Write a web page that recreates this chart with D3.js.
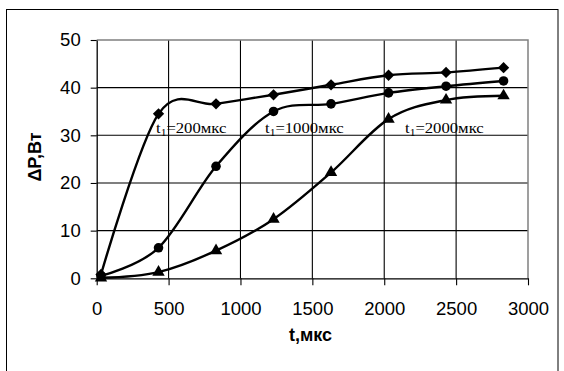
<!DOCTYPE html>
<html>
<head>
<meta charset="utf-8">
<script src="https://cdn.jsdelivr.net/npm/d3@7"></script>
<style>
  html, body { margin: 0; padding: 0; background: #fff; }
  svg { display: block; }
</style>
</head>
<body>
<svg id="chart" width="564" height="371"></svg>
<script>
// Time points, µs
const times = [30, 430, 830, 1230, 1630, 2030, 2430, 2830];
// ΔP, W for each pulse duration t1
const p200  = [0.8, 34.5, 36.6, 38.5, 40.6, 42.6, 43.2, 44.2];
const p1000 = [0.5, 6.4, 23.5, 35.0, 36.6, 38.9, 40.3, 41.4];
const p2000 = [0.1, 1.3, 5.8, 12.4, 22.2, 33.4, 37.4, 38.3];

const xTicks = [0, 500, 1000, 1500, 2000, 2500, 3000];
const yTicks = [0, 10, 20, 30, 40, 50];

const seriesLabels = ["200мкс", "1000мкс", "2000мкс"];
const seriesMarkers = ["diamond", "circle", "triangle"];

const svg = d3.select("#chart");

// outer chart frame
svg.append("rect")
  .attr("x", 6.5).attr("y", 9.5)
  .attr("width", 551.5).attr("height", 400)
  .attr("fill", "#fff").attr("stroke", "#000").attr("stroke-width", 1);

const x = d3.scaleLinear().domain([0, 3000]).range([96.7, 528]);
const y = d3.scaleLinear().domain([0, 50]).range([278.3, 40]);

// gridlines
const grid = svg.append("g");
grid.selectAll("line.h").data(yTicks.slice(1, -1)).join("line")
  .attr("x1", x(0)).attr("x2", x(3000))
  .attr("y1", d => y(d)).attr("y2", d => y(d))
  .attr("stroke", "#000").attr("stroke-width", 1.1);
grid.selectAll("line.v").data(xTicks.slice(1, -1)).join("line")
  .attr("x1", d => x(d)).attr("x2", d => x(d))
  .attr("y1", y(0)).attr("y2", y(50))
  .attr("stroke", "#000").attr("stroke-width", 1.1);

// plot-area border (top and right)
svg.append("path")
  .attr("d", `M${x(0)},${y(50)}H${x(3000)}V${y(0)}`)
  .attr("fill", "none").attr("stroke", "#808080").attr("stroke-width", 1.5);

const tickFont = "'Liberation Sans', Arial, sans-serif";
const fmt = d3.format("d");

const xAxis = svg.append("g")
  .attr("transform", `translate(0,${y(0)})`)
  .call(d3.axisBottom(x).tickValues(xTicks).tickFormat(fmt).tickSize(7).tickPadding(17).tickSizeOuter(0));
const yAxis = svg.append("g")
  .attr("transform", `translate(${x(0)},0)`)
  .call(d3.axisLeft(y).tickValues(yTicks).tickFormat(fmt).tickSize(6).tickPadding(10).tickSizeOuter(0));

[xAxis, yAxis].forEach(g => {
  g.select(".domain").attr("stroke", "#000").attr("stroke-width", 1.3);
  g.selectAll(".tick line").attr("stroke", "#000").attr("stroke-width", 1.1);
  g.selectAll(".tick text")
    .attr("fill", "#000")
    .style("font-family", tickFont)
    .style("font-size", "18.5px");
});

// axis titles
svg.append("text")
  .attr("x", 310.5).attr("y", 341)
  .attr("text-anchor", "middle")
  .style("font-family", tickFont).style("font-size", "18px").style("font-weight", "bold")
  .text("t,мкс");
svg.append("text")
  .attr("transform", "translate(41,157) rotate(-90)")
  .attr("text-anchor", "middle")
  .style("font-family", tickFont).style("font-size", "18px").style("font-weight", "bold")
  .text("ΔP,Вт");

// curves
const line = d3.line()
  .x((d, i) => x(times[i]))
  .y(d => y(d))
  .curve(d3.curveCardinal.tension(0));

const allSeries = [p200, p1000, p2000];
const markerPath = {
  diamond: d3.symbol().type(d3.symbolSquare).size(64)(),
  circle: d3.symbol().type(d3.symbolCircle).size(72)(),
  triangle: d3.symbol().type(d3.symbolTriangle).size(66)()
};

allSeries.forEach((vals, si) => {
  svg.append("path")
    .attr("d", line(vals))
    .attr("fill", "none").attr("stroke", "#000").attr("stroke-width", 2.4)
    .attr("stroke-linejoin", "round");
  const kind = seriesMarkers[si];
  svg.append("g").selectAll("path").data(vals).join("path")
    .attr("d", markerPath[kind])
    .attr("transform", (d, i) => `translate(${x(times[i])},${y(d)})` + (kind === "diamond" ? " rotate(45)" : ""))
    .attr("fill", "#000");
});

// series labels
const labelPos = [[156, 132.5], [265, 132.5], [405, 132.5]];
seriesLabels.forEach((lab, i) => {
  const t = svg.append("text")
    .attr("transform", `translate(${labelPos[i][0]},${labelPos[i][1]}) scale(1.15,1)`)
    .style("font-family", "'Liberation Serif', 'Times New Roman', serif")
    .style("font-size", "14.5px")
    .attr("fill", "#000");
  t.append("tspan").text("t");
  t.append("tspan").attr("dy", 3).style("font-size", "10px").text("1");
  t.append("tspan").attr("dy", -3).text("=" + lab);
});
</script>
</body>
</html>
